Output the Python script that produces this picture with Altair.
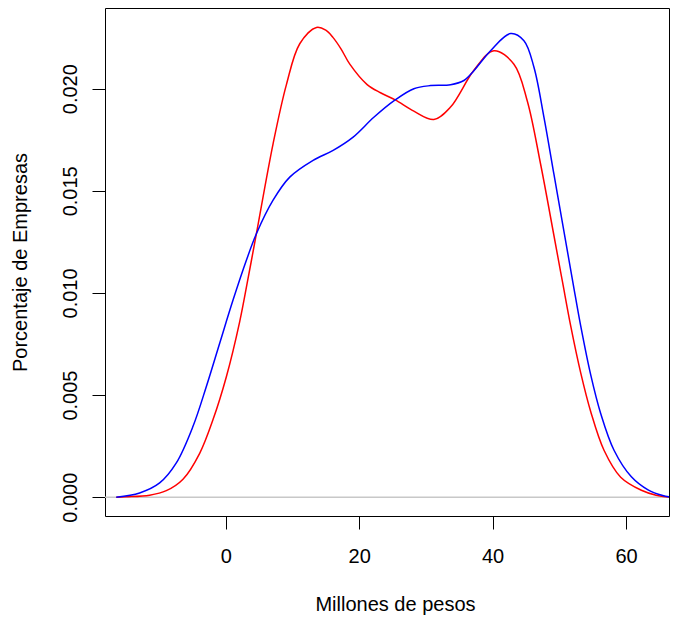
import altair as alt
import pandas as pd

# Density curves (x in millones de pesos, y density)
red_x = [-16.4, -14.9, -11.4, -8.9, -6.4, -3.9, -1.9, 0.1, 2.1, 3.4, 4.6, 7.1, 9.1, 11.1,
         13.6, 15.0, 16.1, 17.3, 18.6, 21.2, 23.2, 25.4, 28.2, 31.2, 33.7, 37.2, 40.2, 43.2,
         45.2, 47.2, 49.2, 50.5, 51.7, 53.2, 54.7, 56.7, 59.2, 62.3, 64.5, 66.8]
red_y = [0.0, 0.00002, 0.0001, 0.00032, 0.00088, 0.00215, 0.0038, 0.0059, 0.0086, 0.0108,
         0.0129, 0.0173, 0.0202, 0.0222, 0.0230, 0.02287, 0.0225, 0.02194, 0.0212, 0.0202,
         0.0198, 0.01945, 0.0189, 0.01849, 0.0191, 0.0209, 0.02186, 0.0212, 0.0194, 0.0163,
         0.0128, 0.0105, 0.0084, 0.0061, 0.0042, 0.0023, 0.00098, 0.00034, 0.0001, 0.0]

blue_x = [-16.4, -12.9, -9.9, -7.4, -4.9, -2.9, -0.9, 1.1, 3.1, 4.6, 7.1, 9.6, 13.1, 16.1,
          19.1, 22.2, 25.4, 28.2, 30.7, 33.7, 35.7, 37.2, 39.7, 42.7, 44.7, 46.2, 47.7,
          49.2, 50.7, 52.1, 53.2, 54.7, 56.2, 58.2, 60.8, 63.3, 65.5, 66.8]
blue_y = [0.0, 0.00021, 0.0007, 0.00168, 0.00347, 0.00542, 0.00754, 0.00965, 0.0116, 0.0129,
          0.01454, 0.01567, 0.01649, 0.01698, 0.01763, 0.0186, 0.01945, 0.0200, 0.02015,
          0.02019, 0.0204, 0.02088, 0.02186, 0.0227, 0.02235, 0.02105, 0.0186, 0.0158,
          0.0130, 0.0104, 0.0084, 0.0060, 0.0041, 0.0023, 0.0010, 0.00036, 0.00008, 0.0]

x_ticks = [0, 20, 40, 60]
y_ticks = [0.0, 0.005, 0.010, 0.015, 0.020]

df = pd.concat([
    pd.DataFrame({"x": red_x, "y": red_y, "serie": "rojo", "orden": list(range(len(red_x)))}),
    pd.DataFrame({"x": blue_x, "y": blue_y, "serie": "azul", "orden": list(range(len(blue_x)))}),
], ignore_index=True)

zero_df = pd.DataFrame({"y": [0.0]})

FONT = "Liberation Sans"

xscale = alt.Scale(domain=[-18.09, 66.44], nice=False, zero=False)
yscale = alt.Scale(domain=[-0.00092, 0.02395], nice=False, zero=False)

x_axis = alt.Axis(values=x_ticks, format="d", title="Millones de pesos", grid=False,
                  domain=False, tickSize=13, tickColor="black", tickWidth=1,
                  labelFontSize=20, labelFont=FONT, labelColor="black",
                  labelBaseline="alphabetic", labelPadding=33, labelFlush=False,
                  titleFont=FONT, titleFontSize=20, titleFontWeight="normal",
                  titleColor="black", titleBaseline="alphabetic", titleX=290, titleY=94,
                  titleAlign="center")
y_axis = alt.Axis(values=y_ticks, format=".3f", title="Porcentaje de Empresas", grid=False,
                  domain=False, tickSize=13, tickColor="black", tickWidth=1,
                  labelFontSize=20, labelFont=FONT, labelColor="black", labelAngle=270,
                  labelAlign="center", labelBaseline="alphabetic", labelPadding=16,
                  labelFlush=False,
                  titleFont=FONT, titleFontSize=20, titleFontWeight="normal",
                  titleColor="black", titleAngle=270, titleBaseline="alphabetic",
                  titleAlign="center", titleX=-79, titleY=254)

zero = alt.Chart(zero_df).mark_rule(color="#c8c8c8", strokeWidth=1.5).encode(
    y=alt.Y("y:Q", scale=yscale, axis=y_axis)
)

lines = alt.Chart(df).mark_line(strokeWidth=1.5, interpolate="catmull-rom", clip=True).encode(
    x=alt.X("x:Q", scale=xscale, axis=x_axis),
    y=alt.Y("y:Q", scale=yscale, axis=y_axis),
    color=alt.Color("serie:N", scale=alt.Scale(domain=["rojo", "azul"],
                                               range=["#FF0000", "#0000FF"]), legend=None),
    order=alt.Order("orden:Q"),
)

chart = alt.layer(zero, lines).properties(
    width=564, height=508,
    autosize=alt.AutoSizeParams(type="none"),
    padding={"left": 97, "top": 0, "right": 1, "bottom": 102},
    background="white",
).configure_view(stroke="black", strokeWidth=1)

chart.save("out.html", embed_options={"renderer": "svg", "actions": False})
